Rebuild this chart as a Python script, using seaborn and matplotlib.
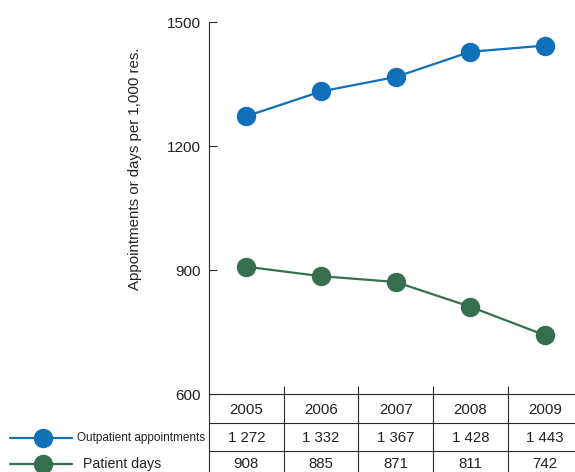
import matplotlib
matplotlib.use("Agg")
import matplotlib.pyplot as plt
import matplotlib.transforms as mtransforms
import seaborn as sns
import pandas as pd

years = ["2005", "2006", "2007", "2008", "2009"]
outpatient = [1272, 1332, 1367, 1428, 1443]
patient_days = [908, 885, 871, 811, 742]
series_names = ["Outpatient appointments", "Patient days"]
y_ticks = [600, 900, 1200, 1500]
y_label = "Appointments or days per 1,000 res."

BLUE = "#1170b8"
GREEN = "#366f4f"
INK = "#2b2b2b"
TEXT = "#222222"

sns.set_theme(style="white")
NARROW = ["Liberation Sans Narrow", "Liberation Sans", "DejaVu Sans"]
REGULAR = ["Liberation Sans", "DejaVu Sans"]
plt.rcParams["font.family"] = NARROW

df = pd.DataFrame({
    "pos": list(range(len(years))) * 2,
    "value": outpatient + patient_days,
    "series": [series_names[0]] * len(years) + [series_names[1]] * len(years),
})

fig = plt.figure(figsize=(5.75, 4.72), dpi=100)
W, H = 575.0, 472.0
ax = fig.add_axes([209 / W, (H - 394) / H, 373.5 / W, 372 / H])
tab = fig.add_axes([209 / W, (H - 479.5) / H, 373.5 / W, 85.5 / H], sharex=ax)

palette = {series_names[0]: BLUE, series_names[1]: GREEN}
sns.lineplot(data=df, x="pos", y="value", hue="series", palette=palette,
             marker="o", markersize=14, markeredgewidth=0, linewidth=1.6,
             legend=False, ax=ax)

ax.set_xlim(-0.5, len(years) - 0.5)
ax.set_ylim(600, 1500)
ax.set_yticks(y_ticks)
ax.set_yticklabels([str(t) for t in y_ticks], family=REGULAR, fontsize=11, color=TEXT)
ax.set_xticks([i + 0.5 for i in range(len(years) - 1)])
ax.set_xticklabels([])
ax.tick_params(axis="y", direction="in", length=6, width=0.8, color=INK,
               pad=6, left=True)
ax.tick_params(axis="x", direction="in", length=6, width=0.8, color=INK, bottom=True)
ax.set_xlabel("")
ax.set_ylabel(y_label, fontsize=10.8, color=TEXT, va="center")
ax.yaxis.set_label_coords(-0.198, 0.605)
for side in ("top", "right"):
    ax.spines[side].set_visible(False)
for side in ("left", "bottom"):
    ax.spines[side].set_color(INK)
    ax.spines[side].set_linewidth(0.8)

# data table under the plot
tab.set_ylim(3, 0)
for side in ("top", "right", "bottom"):
    tab.spines[side].set_visible(False)
tab.spines["left"].set_color(INK)
tab.spines["left"].set_linewidth(0.8)
tab.tick_params(left=False, bottom=False, labelleft=False, labelbottom=False)
tab.set_facecolor("none")
for r in (1, 2):
    tab.axhline(r, color=INK, linewidth=0.8)
for i in range(len(years) - 1):
    tab.axvline(i + 0.5, color=INK, linewidth=0.8)

def fmt(v):
    return f"{v:,}".replace(",", " ")

for i, yr in enumerate(years):
    tab.text(i, 0.56, yr, ha="center", va="center", fontsize=10.8, color=TEXT)
    tab.text(i, 1.54, fmt(outpatient[i]), ha="center", va="center", fontsize=10.8, color=TEXT)
    tab.text(i, 2.46, fmt(patient_days[i]), ha="center", va="center", fontsize=10.8, color=TEXT)

# row keys to the left of the table
blend = mtransforms.blended_transform_factory(fig.transFigure, tab.transData)
keys = [(1.54, BLUE, series_names[0], 77, 8.5), (2.46, GREEN, series_names[1], 83, 10.2)]
for row, col, name, tx, fs in keys:
    tab.plot([10 / W, 72 / W], [row, row], color=col, linewidth=1.6,
             transform=blend, clip_on=False)
    tab.plot([43 / W], [row], marker="o", markersize=14, markeredgewidth=0,
             color=col, transform=blend, clip_on=False)
    tab.text(tx / W, row, name, ha="left", va="center", fontsize=fs,
             color=TEXT, transform=blend)

fig.savefig("out.png", dpi=100)
